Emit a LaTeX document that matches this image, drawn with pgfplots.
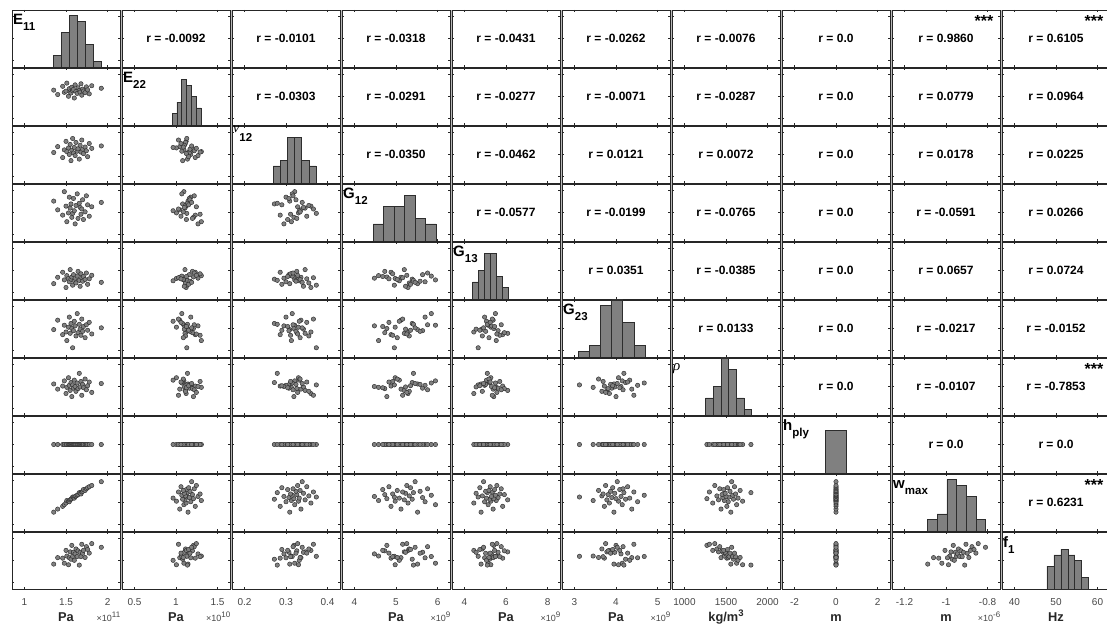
\documentclass[border=0pt]{standalone}
\usepackage{pgfplots}
\pgfplotsset{compat=1.18}
\usepackage{pgfplotstable}
\usepackage{fontspec}
\setmainfont{Liberation Sans}
\newfontfamily\grk{Liberation Serif}
\definecolor{axc}{RGB}{38,38,38}
\definecolor{tlc}{RGB}{70,70,70}
\definecolor{mfill}{RGB}{128,128,128}
\definecolor{medge}{RGB}{45,45,45}
\definecolor{gapc}{RGB}{185,185,185}

\pgfplotstableread{
E11 E22 nu G12 G13 G23 rho h wmax f1
1.352 1.145 0.309 5.52 4.80 3.95 1558 0 -1.088 48.36
1.40 1.045 0.336 5.12 5.38 4.38 1440 0 -1.06 51.30
1.46 1.232 0.286 4.88 5.84 3.72 1510 0 -1.035 51.07
1.48 1.095 0.321 5.95 5.14 4.15 1628 0 -1.02 48.76
1.50 1.122 0.360 5.29 4.45 3.84 1340 0 -1.005 54.60
1.51 1.305 0.313 4.58 5.53 3.45 1480 0 -0.982 52.03
1.53 1.005 0.330 4.98 5.27 4.06 1700 0 -0.988 48.06
1.54 1.178 0.300 5.70 4.97 4.52 1527 0 -0.993 51.23
1.55 1.108 0.346 5.20 6.08 3.78 1410 0 -0.976 53.93
1.56 1.080 0.272 5.39 5.21 4.23 1590 0 -0.970 50.59
1.57 1.210 0.319 4.78 5.41 4.00 1270 0 -0.965 56.90
1.58 1.130 0.373 4.96 4.66 3.12 1536 0 -0.950 51.91
1.59 1.160 0.307 5.64 5.62 3.90 1462 0 -0.955 53.77
1.60 0.965 0.332 5.08 5.06 4.33 1645 0 -0.960 50.08
1.61 1.265 0.295 4.48 5.30 4.12 1500 0 -0.945 53.01
1.62 1.115 0.355 5.32 4.86 3.66 1390 0 -0.940 55.27
1.635 1.070 0.315 5.85 5.49 4.68 1580 0 -0.934 51.82
1.645 1.198 0.326 4.73 5.92 3.81 1452 0 -0.928 54.42
1.66 1.138 0.279 5.42 5.10 4.19 1800 0 -0.910 47.91
1.67 1.100 0.342 5.23 4.56 3.97 1490 0 -0.916 53.73
1.68 1.290 0.311 4.92 5.70 3.69 1615 0 -0.922 51.75
1.69 1.030 0.366 5.16 5.34 4.43 1300 0 -0.904 57.40
1.70 1.168 0.324 5.58 5.02 3.87 1548 0 -0.898 53.32
1.71 1.125 0.304 4.68 5.45 4.09 1472 0 -0.882 54.62
1.73 1.088 0.334 5.03 5.18 3.58 1670 0 -0.890 51.38
1.745 1.220 0.317 5.76 5.77 4.17 1425 0 -0.875 56.31
1.76 1.152 0.290 5.35 4.74 3.92 1518 0 -0.865 55.02
1.78 1.060 0.350 4.83 5.24 4.28 1602 0 -0.856 53.37
1.81 1.245 0.328 5.26 5.56 3.75 1365 0 -0.845 57.70
1.925 1.188 0.339 5.46 4.92 4.03 1568 0 -0.81 56.02
}\data

\makeatletter
\newcommand\setvar[7]{%
  \@namedef{vn#1}{#2}\@namedef{vmin#1}{#3}\@namedef{vmax#1}{#4}%
  \@namedef{vt#1}{#5}\@namedef{vl#1}{#6}\@namedef{vh#1}{#7}}
\newcommand\setr[3]{\@namedef{r#1-#2}{#3}}
\newcommand\sets[2]{\@namedef{s#1-#2}{}}
\newcommand\setdl[2]{\@namedef{dl#1}{#2}}
\newcommand\setun[2]{\@namedef{un#1}{#2}}
\newcommand\setux[2]{\@namedef{ux#1}{#2}}
\makeatother

\setvar{1}{E11}{0.85}{2.15}{1,1.5,2}{1,1.5,2}{(1.347,2) (1.444,6) (1.541,9) (1.639,8) (1.736,4) (1.833,1) (1.930,1)}
\setvar{2}{E22}{0.35}{1.65}{0.5,1,1.5}{0.5,1,1.5}{(0.952,2) (1.010,4) (1.068,8) (1.126,7) (1.185,5) (1.243,3) (1.301,3)}
\setvar{3}{nu}{0.17}{0.43}{0.2,0.3,0.4}{0.2,0.3,0.4}{(0.2694,3) (0.2865,4) (0.3037,8) (0.3208,8) (0.3379,4) (0.3551,3) (0.3722,3)}
\setvar{4}{G12}{3.7}{6.3}{4,5,6}{4,5,6}{(4.454,3) (4.705,6) (4.957,6) (5.208,8) (5.460,4) (5.712,3) (5.963,3)}
\setvar{5}{G13}{3.4}{8.6}{4,6,8}{4,6,8}{(4.397,3) (4.686,5) (4.975,8) (5.264,8) (5.553,4) (5.842,2) (6.130,2)}
\setvar{6}{G23}{2.7}{5.3}{3,4,5}{3,4,5}{(3.092,1) (3.360,2) (3.628,9) (3.895,10) (4.163,6) (4.430,2) (4.698,2)}
\setvar{7}{rho}{850}{2150}{1000,1500,2000}{1000,1500,2000}{(1256,3) (1348,5) (1440,10) (1533,8) (1625,3) (1717,1) (1809,1)}
\setvar{8}{h}{-2.6}{2.6}{-2,0,2}{-2,0,2}{(-0.5,30) (0.5,30)}
\setvar{9}{wmax}{-1.26}{-0.74}{-1.2,-1,-0.8}{-1.2,-1,-0.8}{(-1.090,2) (-1.043,3) (-0.996,9) (-0.949,8) (-0.903,6) (-0.856,2) (-0.809,2)}
\setvar{10}{f1}{37}{63}{40,50,60}{40,50,60}{(47.8,4) (49.48,6) (51.16,7) (52.84,6) (54.52,5) (56.2,2) (57.88,2)}

\setr{1}{2}{-0.0092}\setr{1}{3}{-0.0101}\setr{1}{4}{-0.0318}\setr{1}{5}{-0.0431}\setr{1}{6}{-0.0262}\setr{1}{7}{-0.0076}\setr{1}{8}{0.0}\setr{1}{9}{0.9860}\setr{1}{10}{0.6105}
\setr{2}{3}{-0.0303}\setr{2}{4}{-0.0291}\setr{2}{5}{-0.0277}\setr{2}{6}{-0.0071}\setr{2}{7}{-0.0287}\setr{2}{8}{0.0}\setr{2}{9}{0.0779}\setr{2}{10}{0.0964}
\setr{3}{4}{-0.0350}\setr{3}{5}{-0.0462}\setr{3}{6}{0.0121}\setr{3}{7}{0.0072}\setr{3}{8}{0.0}\setr{3}{9}{0.0178}\setr{3}{10}{0.0225}
\setr{4}{5}{-0.0577}\setr{4}{6}{-0.0199}\setr{4}{7}{-0.0765}\setr{4}{8}{0.0}\setr{4}{9}{-0.0591}\setr{4}{10}{0.0266}
\setr{5}{6}{0.0351}\setr{5}{7}{-0.0385}\setr{5}{8}{0.0}\setr{5}{9}{0.0657}\setr{5}{10}{0.0724}
\setr{6}{7}{0.0133}\setr{6}{8}{0.0}\setr{6}{9}{-0.0217}\setr{6}{10}{-0.0152}
\setr{7}{8}{0.0}\setr{7}{9}{-0.0107}\setr{7}{10}{-0.7853}
\setr{8}{9}{0.0}\setr{8}{10}{0.0}
\setr{9}{10}{0.6231}
\sets{1}{9}\sets{1}{10}\sets{7}{10}\sets{9}{10}

\newcommand\dlab[2]{{\fontsize{15}{15}\selectfont\bfseries #1}\raisebox{-6pt}{\fontsize{11.5}{11.5}\selectfont\bfseries #2}}
\setdl{1}{\dlab{E}{11}}
\setdl{2}{\dlab{E}{22}}
\setdl{3}{\raisebox{8.5pt}{\fontsize{14}{14}\selectfont\grk\itshape ν}\raisebox{-0.5pt}{\fontsize{11.5}{11.5}\selectfont\bfseries 12}}
\setdl{4}{\dlab{G}{12}}
\setdl{5}{\dlab{G}{13}}
\setdl{6}{\dlab{G}{23}}
\setdl{7}{\raisebox{2pt}{\fontsize{15}{15}\selectfont\grk\itshape ρ}}
\setdl{8}{\dlab{h}{ply}}
\setdl{9}{\dlab{w}{max}}
\setdl{10}{\dlab{f}{1}}

\setun{1}{Pa}\setun{2}{Pa}\setun{3}{}\setun{4}{Pa}\setun{5}{Pa}\setun{6}{Pa}
\setun{7}{kg/m\raisebox{5pt}{\fontsize{9.5}{9.5}\selectfont 3}}\setun{8}{m}\setun{9}{m}\setun{10}{Hz}
\setux{1}{11}\setux{2}{10}\setux{4}{9}\setux{5}{9}\setux{6}{9}\setux{9}{-6}

\pgfplotsset{
  cellstyle/.style={
    scale only axis, width=108pt, height=57pt, anchor=north west,
    axis line style={draw=axc, line width=0.7pt},
    axis background/.style={fill=white},
    tick style={draw=axc, line width=0.5pt},
    major tick length=2.2pt, tick align=inside,
    yticklabels={},
    scaled ticks=false,
    tick label style={font=\fontsize{10}{10}\selectfont, text=tlc},
    xticklabel style={yshift=-6pt},
  },
  scatstyle/.style={only marks, mark=*, mark size=2.2pt, mark options={fill=mfill, draw=medge, line width=0.45pt, solid}},
  histstyle/.style={ybar interval, fill=mfill, draw=medge, line width=0.6pt},
}

\newcommand\cellaxis[3]{%
  \begin{axis}[#1]
  \ifnum#2>#3\relax
    \edef\doplot{\noexpand\addplot[scatstyle] table[x=\csname vn#3\endcsname,y=\csname vn#2\endcsname]{\noexpand\data};}\doplot
  \fi
  \ifnum#2=#3\relax
    \edef\doplot{\noexpand\addplot[histstyle] coordinates {\csname vh#2\endcsname};}\doplot
    \node[anchor=base west, inner sep=0pt, text=black] at ([xshift=1pt,yshift=-15pt]rel axis cs:0,1) {\csname dl#2\endcsname};
  \fi
  \ifnum#2<#3\relax
    \node[font=\bfseries\fontsize{12}{12}\selectfont, text=black] at (rel axis cs:0.5,0.5) {r = \csname r#2-#3\endcsname};
    \ifcsname s#2-#3\endcsname
      \node[anchor=base east, inner sep=0pt, font=\bfseries\fontsize{16}{16}\selectfont, text=black] at ([xshift=-6.5pt,yshift=-17pt]rel axis cs:1,1) {***};
    \fi
  \fi
  \end{axis}}

\newcommand\cell[2]{%
  \pgfmathsetmacro\xl{12+(#2-1)*110}%
  \pgfmathsetmacro\yt{616-(#1-1)*58}%
  \edef\xa{\csname vmin#2\endcsname}%
  \edef\xb{\csname vmax#2\endcsname}%
  \edef\xt{\csname vt#2\endcsname}%
  \ifnum#1=#2\relax
    \ifnum#1=8\relax \def\ya{0}\def\yb{40}\def\ytk{4.615,20,35.385}%
    \else \def\ya{0}\def\yb{10}\def\ytk{1.154,5,8.846}\fi
  \else
    \edef\ya{\csname vmin#1\endcsname}\edef\yb{\csname vmax#1\endcsname}\edef\ytk{\csname vt#1\endcsname}%
  \fi
  \ifnum#1=10\relax \edef\xlab{\csname vl#2\endcsname}\else \def\xlab{}\fi
  \edef\axopts{cellstyle, at={(\xl pt,\yt pt)}, xmin=\xa, xmax=\xb, ymin=\ya, ymax=\yb, xtick={\xt}, ytick={\ytk}, xticklabels={\xlab}}%
  \expandafter\cellaxis\expandafter{\axopts}{#1}{#2}%
}

\begin{document}
\begin{tikzpicture}
\useasboundingbox (0,0) rectangle (1107pt,626pt);
\fill[gapc] (12pt,37pt) rectangle (1125pt,616pt);
\foreach \i in {1,...,10}{\foreach \j in {1,...,10}{\cell{\i}{\j}}}
\foreach \j in {1,...,10}{%
  \pgfmathsetmacro\xc{66+(\j-1)*110}%
  \pgfmathsetmacro\xr{120.5+(\j-1)*110}%
  \node[anchor=base, inner sep=0pt, font=\bfseries\fontsize{12.8}{12.8}\selectfont, text=axc] at (\xc pt, 4.5pt) {\csname un\j\endcsname};
  \ifcsname ux\j\endcsname
    \node[anchor=base east, inner sep=0pt, text=tlc] at (\xr pt, 4.5pt) {\fontsize{9}{9}\selectfont ×10\raisebox{4pt}{\fontsize{8}{8}\selectfont\csname ux\j\endcsname}};
  \fi
}
\end{tikzpicture}
\end{document}
